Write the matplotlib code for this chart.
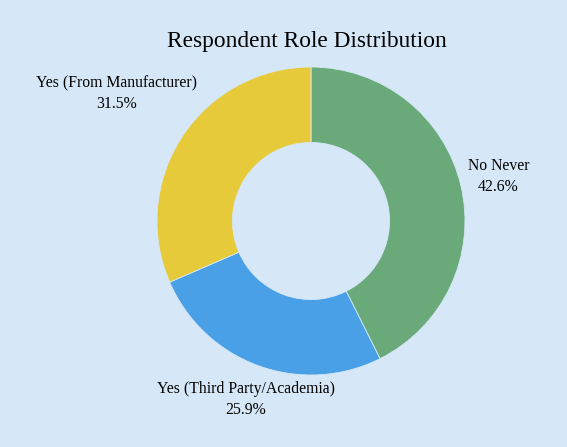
import matplotlib
matplotlib.use("Agg")
import matplotlib.pyplot as plt
import numpy as np

categories = ["No Never", "Yes (Third Party/Academia)", "Yes (From Manufacturer)"]
values = [42.6, 25.9, 31.5]
colors = ["#6aaa7a", "#4aa0e6", "#e6ca3a"]
label_dist = [1.25, 1.235, 1.51]

plt.rcParams['font.family'] = ['Liberation Serif', 'DejaVu Serif']
bg = "#d6e8f7"
W, H = 567, 447
fig = plt.figure(figsize=(W/100, H/100), dpi=100, facecolor=bg)
ax = fig.add_axes([0, 0, 1, 1])
ax.set_facecolor(bg)
cx, cy, R = 311, 221, 154

wedges, _ = ax.pie(values, colors=colors, startangle=90, counterclock=False,
                   radius=1.0, wedgeprops=dict(width=0.49, edgecolor=bg, linewidth=0.6))
ax.set_aspect('auto')
ax.set_xlim(-cx/R, (W-cx)/R)
ax.set_ylim(-(H-cy)/R, cy/R)
ax.axis('off')
for w, cat, v, d in zip(wedges, categories, values, label_dist):
    ang = np.deg2rad((w.theta1 + w.theta2) / 2)
    ax.text(d*np.cos(ang), d*np.sin(ang), f"{cat}\n{v}%", ha='center', va='center',
            fontsize=11.3, linespacing=1.38)

fig.text(307/W, 1-42/H, "Respondent Role Distribution", ha='center', va='center', fontsize=16.8)
fig.savefig("out.png", dpi=100, facecolor=bg)
